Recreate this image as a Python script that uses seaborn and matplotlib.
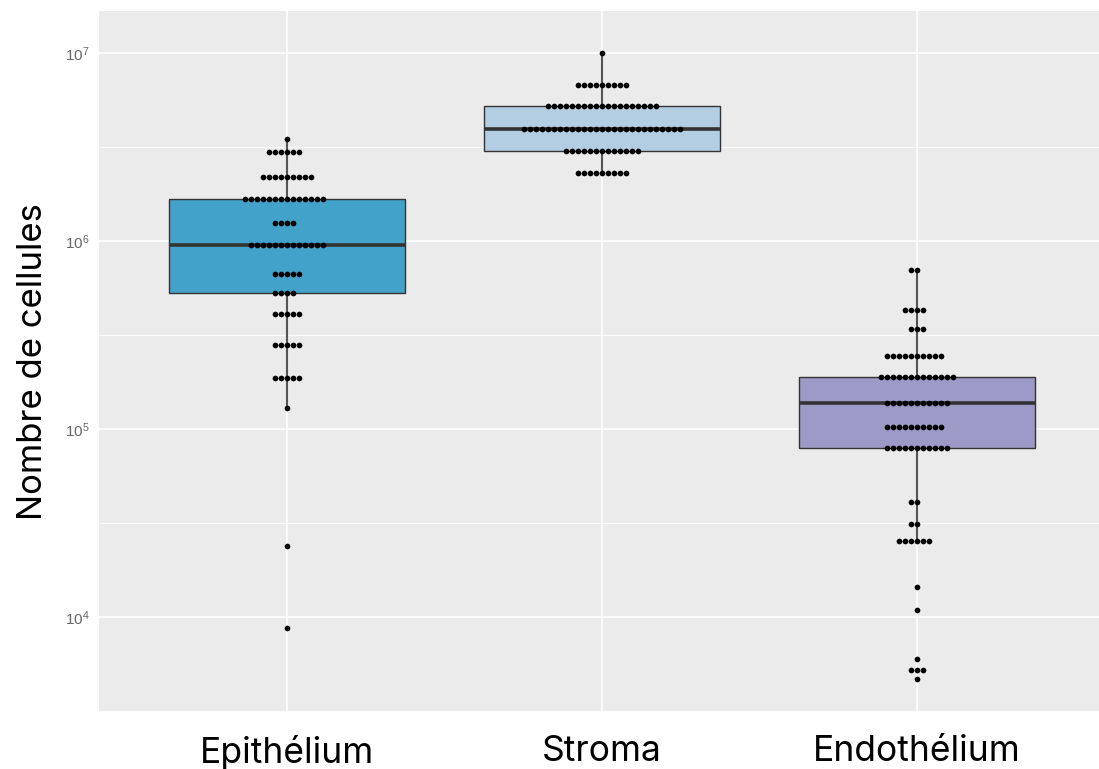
import numpy as np
import pandas as pd
import seaborn as sns
import matplotlib.pyplot as plt
from matplotlib.ticker import FixedLocator, NullFormatter

# tissue groups, in plotting order
tissues = ["Epithélium", "Stroma", "Endothélium"]
box_colors = ["#43A2CA", "#B3CDE3", "#9E9AC8"]

# dot rows: cell count of the row and number of samples in it
epi_values = [3.48e6, 2.96e6, 2.18e6, 1.67e6, 1.25e6, 9.5e5, 6.7e5, 5.3e5,
              4.07e5, 2.8e5, 1.87e5, 1.30e5, 2.39e4, 8.7e3]
epi_counts = [1, 6, 9, 14, 4, 13, 5, 4, 5, 5, 5, 1, 1, 1]

stroma_values = [1.0e7, 6.76e6, 5.22e6, 3.96e6, 3.01e6, 2.31e6]
stroma_counts = [1, 9, 19, 27, 13, 9]

endo_values = [7.0e5, 4.29e5, 3.41e5, 2.45e5, 1.89e5, 1.37e5, 1.02e5, 7.9e4,
               4.09e4, 3.13e4, 2.54e4, 1.45e4, 1.09e4, 6.0e3, 5.2e3, 4.67e3]
endo_counts = [2, 4, 3, 10, 13, 11, 10, 11, 2, 2, 6, 1, 1, 1, 3, 1]

y_ticks = [1e4, 1e5, 1e6, 1e7]
y_tick_labels = ["$\\mathregular{10^{4}}$", "$\\mathregular{10^{5}}$",
                 "$\\mathregular{10^{6}}$", "$\\mathregular{10^{7}}$"]

# long table, one row per sample
df = pd.concat([
    pd.DataFrame({"tissue": tissues[0], "cells": np.repeat(epi_values, epi_counts)}),
    pd.DataFrame({"tissue": tissues[1], "cells": np.repeat(stroma_values, stroma_counts)}),
    pd.DataFrame({"tissue": tissues[2], "cells": np.repeat(endo_values, endo_counts)}),
], ignore_index=True)

sns.set_style("white")
plt.rcParams["font.family"] = ["Inter", "DejaVu Sans"]

fig = plt.figure(figsize=(10.99, 7.69), dpi=100)
ax = fig.add_axes([99 / 1099, 1 - 711.7 / 769, 1 - 99 / 1099, 701 / 769])

sns.boxplot(data=df, x="tissue", y="cells", hue="tissue", order=tissues,
            hue_order=tissues, palette=box_colors, saturation=1, width=0.75,
            whis=1.6, showfliers=False, showcaps=False, legend=False,
            log_scale=True, linecolor="#333333", linewidth=1.0,
            medianprops={"linewidth": 2.6, "color": "#333333"},
            whiskerprops={"linewidth": 1.5, "color": "#555555"},
            ax=ax)

sns.swarmplot(data=df, x="tissue", y="cells", order=tissues, color="black",
              size=4.1, linewidth=0, zorder=3, ax=ax)

ax.set_ylim(10 ** 3.496, 10 ** 7.225)
ax.set_xlim(-0.597, 2.578)

# ggplot-like grey panel
ax.set_facecolor("#EBEBEB")
for s in ax.spines.values():
    s.set_visible(False)
ax.set_axisbelow(True)

ax.yaxis.set_major_locator(FixedLocator(y_ticks))
ax.set_yticklabels(y_tick_labels)
ax.yaxis.set_minor_locator(FixedLocator([10 ** 3.5, 10 ** 4.5, 10 ** 5.5, 10 ** 6.5]))
ax.yaxis.set_minor_formatter(NullFormatter())
ax.grid(which="major", color="white", linewidth=1.1)
ax.grid(which="minor", axis="y", color="white", linewidth=0.55)

ax.tick_params(axis="y", which="minor", length=0)
ax.tick_params(which="major", length=4, width=1, color="#555555")
ax.tick_params(axis="y", labelsize=11, labelcolor="#666666", pad=3)
ax.tick_params(axis="x", labelsize=25.5, labelcolor="black", pad=13)
for lab in ax.get_yticklabels():
    lab.set_family(["Liberation Sans", "DejaVu Sans"])

ax.set_xlabel("")
ax.set_ylabel("Nombre de cellules", fontsize=25, color="black", labelpad=11)

fig.savefig("out.png", dpi=100)
